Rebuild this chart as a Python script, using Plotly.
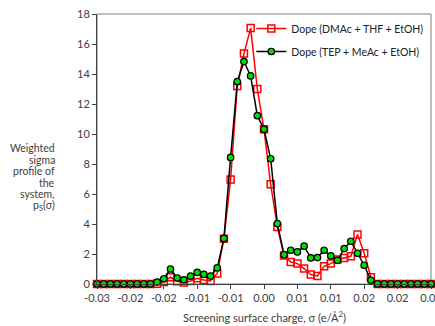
import plotly.graph_objects as go

sigma = [round(-0.025 + 0.001 * i, 3) for i in range(51)]

dope_dmac = [0, 0, 0, 0, 0, 0, 0, 0, 0, 0.02,
             0.13, 0.45, 0.18, 0.10, 0.20, 0.38, 0.27, 0.20, 0.70, 3.02,
             6.97, 13.2, 15.36, 17.06, 13.0, 10.31, 6.65, 3.80, 1.90, 1.47,
             1.36, 1.03, 0.63, 0.54, 1.18, 1.36, 1.63, 1.74, 1.85, 3.30,
             2.05, 0.45, 0, 0, 0, 0, 0, 0, 0, 0, 0]

dope_tep = [0, 0, 0, 0, 0, 0, 0, 0, 0, 0.13,
            0.35, 1.00, 0.40, 0.28, 0.52, 0.78, 0.64, 0.53, 1.07, 3.04,
            8.44, 13.49, 14.83, 13.87, 11.22, 10.31, 8.35, 4.03, 1.95, 2.25,
            2.14, 2.52, 1.74, 1.76, 2.25, 1.87, 1.58, 2.36, 2.85, 2.05,
            1.25, 0.25, 0, 0, 0, 0, 0, 0, 0, 0, 0]

x_tickvals = [-0.025, -0.02, -0.015, -0.01, -0.005, 0.0, 0.005, 0.01, 0.015, 0.02, 0.025]
x_ticktext = ["-0.03", "-0.02", "-0.02", "-0.01", "-0.01", "0.00", "0.01", "0.01", "0.02", "0.02", "0.03"]
y_tickvals = list(range(0, 19, 2))

y_label_lines = ["Weighted", "sigma", "profile of", "the", "system,", "p<sub>S</sub>(σ)"]
x_title = "Screening surface charge, σ (e/Å<sup>2</sup>)"

FONT = "Lato, 'Open Sans', sans-serif"
TXT = "#404040"

fig = go.Figure()
fig.add_trace(go.Scatter(
    x=sigma, y=dope_dmac, mode="lines+markers",
    name="Dope (DMAc + THF + EtOH)",
    legendgroup="a",
    line=dict(color="#FF0000", width=1.5),
    marker=dict(symbol="square-open", size=7, color="#FF0000", line=dict(width=1.5, color="#FF0000")),
    cliponaxis=False,
))
fig.add_trace(go.Scatter(
    x=sigma, y=dope_tep, mode="lines+markers",
    name="Dope (TEP + MeAc + EtOH)",
    legendgroup="b",
    line=dict(color="#000000", width=1.5),
    marker=dict(symbol="circle", size=6.5, color="#00DD00", line=dict(width=1.2, color="#000000")),
    cliponaxis=False,
))

fig.add_shape(type="rect", xref="paper", yref="paper", x0=0, y0=0, x1=1, y1=1,
              line=dict(color="#808080", width=1), layer="below")

fig.update_layout(
    width=435, height=326,
    margin=dict(l=97, r=4, t=14, b=42, autoexpand=False),
    paper_bgcolor="white", plot_bgcolor="white",
    font=dict(family=FONT, size=11, color=TXT),
    showlegend=True,
    legend=dict(x=0.462, y=1.0, xanchor="left", yanchor="top",
                bgcolor="rgba(0,0,0,0)", font=dict(size=10.5, color="#202020"),
                traceorder="grouped", tracegroupgap=4, itemwidth=30),
    xaxis=dict(range=[-0.025, 0.025], tickmode="array", tickvals=x_tickvals, ticktext=x_ticktext,
               showgrid=False, zeroline=False, showline=True, linecolor="#404040", linewidth=1,
               ticks="outside", ticklen=4, tickcolor="#404040", ticklabeloverflow="allow"),
    yaxis=dict(range=[0, 18], tickmode="array", tickvals=y_tickvals,
               showgrid=False, zeroline=False, showline=True, linecolor="#404040", linewidth=1,
               ticks="outside", ticklen=4, tickcolor="#404040"),
)

fig.add_annotation(
    text=x_title,
    xref="paper", yref="paper", x=0.5, y=0, yshift=-42, xanchor="center", yanchor="bottom",
    showarrow=False, font=dict(size=11, color=TXT),
)

# y-axis title as right-aligned stacked lines (tight line spacing)
plot_h = 326 - 14 - 42
top_px, step_px = 148, 11.6
for k, line in enumerate(y_label_lines):
    ypx = top_px + k * step_px
    fig.add_annotation(
        text=line, xref="paper", yref="paper",
        x=-0.12, y=(326 - 42 - ypx) / plot_h,
        xanchor="right", yanchor="middle", align="right",
        showarrow=False, font=dict(size=10.5, color=TXT),
    )

fig.write_html("out.html", post_script="document.body.style.margin='0px';",
               config={"displayModeBar": False})
